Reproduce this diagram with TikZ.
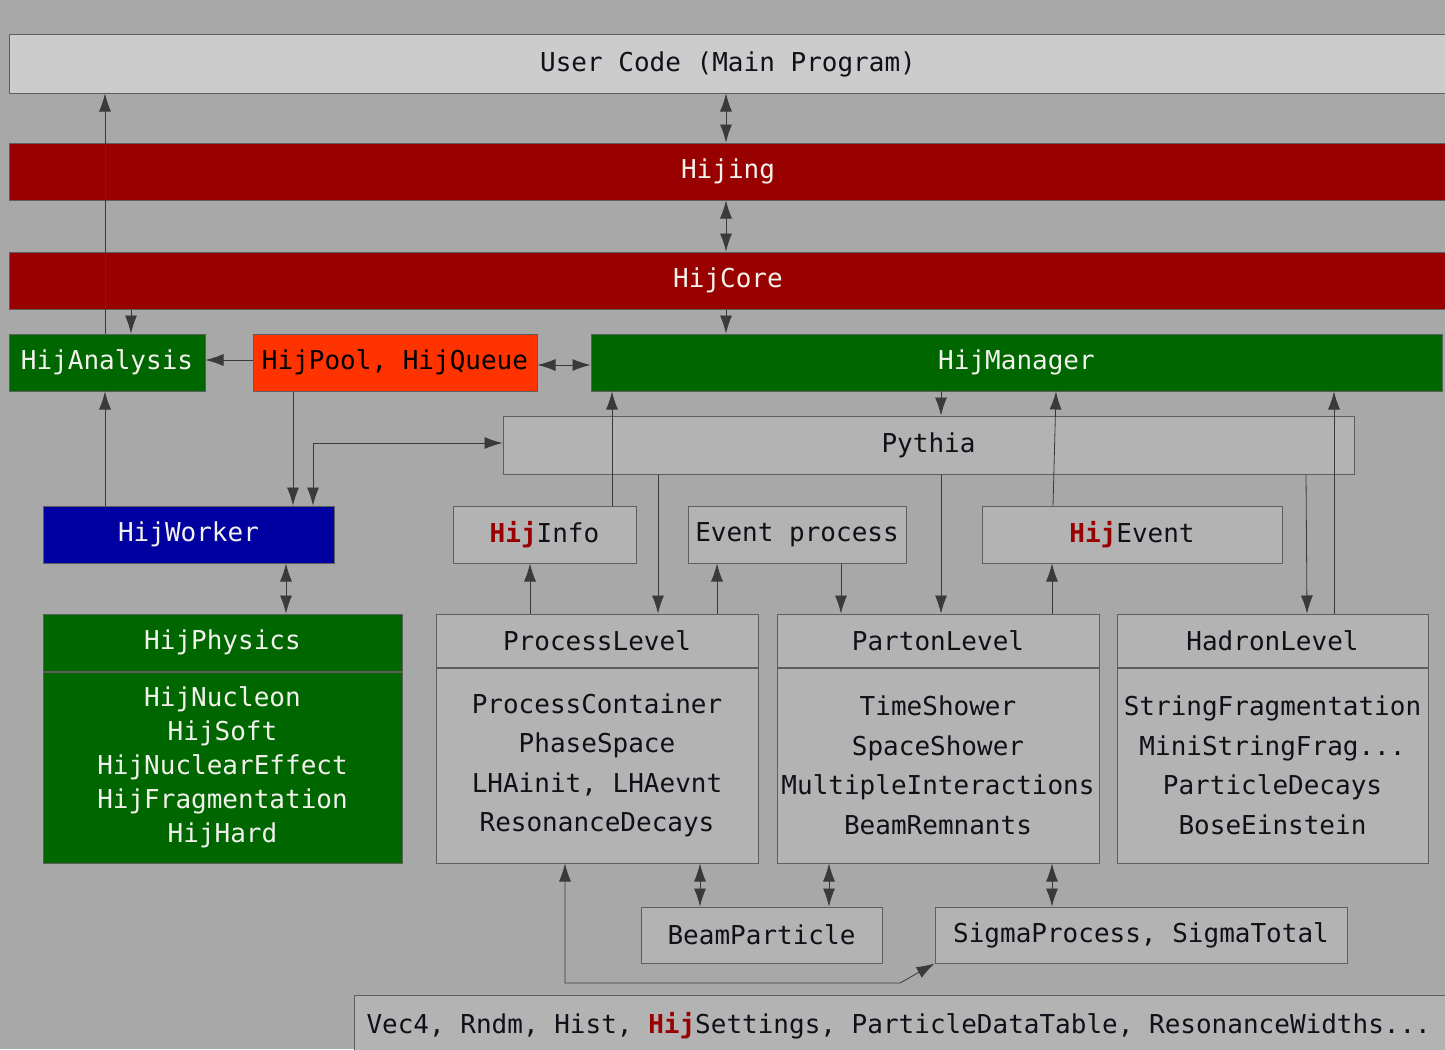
\documentclass[tikz,border=0pt]{standalone}
\usepackage{fontspec}
\setmainfont{DejaVu Sans Mono}
\usetikzlibrary{arrows.meta}
\usetikzlibrary{positioning}

\definecolor{bggray}{HTML}{A8A8A8}
\definecolor{boxgray}{HTML}{B3B3B3}
\definecolor{usergray}{HTML}{CCCCCC}
\definecolor{framegray}{HTML}{5E5E5E}
\definecolor{arrowgray}{HTML}{3A3A3A}
\definecolor{hijred}{HTML}{990000}
\definecolor{hijgreen}{HTML}{006600}
\definecolor{hijblue}{HTML}{0000A0}
\definecolor{hijorange}{HTML}{FF3300}
\definecolor{lighttext}{HTML}{F2F2EC}
\definecolor{darktext}{HTML}{101018}

\newcommand{\hij}{\textbf{\textcolor{hijred}{Hij}}}

\tikzset{
    every node/.style={font=\fontsize{26}{34}\selectfont, inner sep=0pt},
    graybox/.style={draw=framegray, line width=1pt, fill=boxgray, text=darktext},
    userbox/.style={draw=framegray, line width=1pt, fill=usergray, text=darktext},
    redbar/.style={draw=framegray, line width=1pt, fill=hijred, text=lighttext},
    greenbox/.style={draw=framegray, line width=1pt, fill=hijgreen, text=lighttext},
    bluebox/.style={draw=framegray, line width=1pt, fill=hijblue, text=lighttext},
    orangebox/.style={draw=framegray, line width=1pt, fill=hijorange, text=black},
    lvlhead/.style={graybox, minimum height=53pt},
    lvlbody/.style={graybox, minimum height=195pt, align=center,
        font=\fontsize{26}{39.5}\selectfont},
    arr/.style={draw=arrowgray, line width=0.8pt,
        -{Latex[length=18pt,width=12pt]}},
    darr/.style={draw=arrowgray, line width=0.8pt,
        {Latex[length=18pt,width=12pt]}-{Latex[length=18pt,width=12pt]}},
}

\begin{document}
\begin{tikzpicture}[x=1pt,y=-1pt]
    \useasboundingbox (0,0) rectangle (1445,1049);
    \clip (0,0) rectangle (1445,1049);
    \fill[bggray] (0,0) rectangle (1445,1049);

    % top layers
    \node[userbox, minimum width=1438pt, minimum height=58pt] (usercode) at (728,64) {User Code (Main Program)};
    \node[redbar, minimum width=1438pt, minimum height=57pt] (hijing) at (728,171.5) {Hijing};
    \node[redbar, minimum width=1438pt, minimum height=57pt] (hijcore) at (728,280.5) {HijCore};

    % managers
    \node[greenbox, minimum width=196pt, minimum height=57pt] (hijanalysis) at (107,362.5) {HijAnalysis};
    \node[orangebox, minimum width=284pt, minimum height=57pt] (hijpool) at (395,362.5) {HijPool, HijQueue};
    \node[greenbox, minimum width=851pt, minimum height=57pt] (hijmanager) at (1016.5,362.5) {HijManager};
    \node[graybox, minimum width=851pt, minimum height=58pt] (pythia) at (928.5,445) {Pythia};

    % middle row
    \node[bluebox, minimum width=291pt, minimum height=57pt] (hijworker) at (188.5,534.5) {HijWorker};
    \node[graybox, minimum width=183pt, minimum height=57pt] (hijinfo) at (544.5,534.5) {\hij Info};
    \node[graybox, minimum width=218pt, minimum height=57pt] (eventproc) at (797,534.5) {Event process};
    \node[graybox, minimum width=300pt, minimum height=57pt] (hijevent) at (1132,534.5) {\hij Event};

    % physics and levels
    \node[greenbox, minimum width=359pt, minimum height=57pt] (hijphysics) at (222.5,642.5) {HijPhysics};
    \node[greenbox, minimum width=359pt, minimum height=191pt, align=center, below=0pt of hijphysics] (physicsbody)
        {HijNucleon\\HijSoft\\HijNuclearEffect\\HijFragmentation\\HijHard};
    \node[lvlhead, minimum width=322pt] (processlevel) at (597,640.5) {ProcessLevel};
    \node[lvlbody, minimum width=322pt, below=0pt of processlevel] (processbody)
        {ProcessContainer\\PhaseSpace\\LHAinit, LHAevnt\\ResonanceDecays};
    \node[lvlhead, minimum width=322pt] (partonlevel) at (938,640.5) {PartonLevel};
    \node[lvlbody, minimum width=322pt, below=0pt of partonlevel] (partonbody)
        {TimeShower\\SpaceShower\\MultipleInteractions\\BeamRemnants};
    \node[lvlhead, minimum width=311pt] (hadronlevel) at (1272.5,640.5) {HadronLevel};
    \node[lvlbody, minimum width=311pt, below=0pt of hadronlevel] (hadronbody)
        {StringFragmentation\\MiniStringFrag...\\ParticleDecays\\BoseEinstein};

    % bottom
    \node[graybox, minimum width=241pt, minimum height=56pt] (beamparticle) at (761.5,935) {BeamParticle};
    \node[graybox, minimum width=412pt, minimum height=56pt] (sigma) at (1141,935) {SigmaProcess, SigmaTotal};
    \node[graybox, minimum height=60pt, anchor=north west, inner xsep=12pt] (utils) at (354,995)
        {\makebox[1086pt][l]{Vec4, Rndm, Hist, \hij Settings, ParticleDataTable, ResonanceWidths...}};

    % connectors
    \draw[darr] ([xshift=-2pt]usercode.south) -- ([xshift=-2pt]hijing.north);
    \draw[darr] ([xshift=-2pt]hijing.south) -- ([xshift=-2pt]hijcore.north);
    \draw[arr] ([xshift=-2pt]hijcore.south) -- ([xshift=-2pt]hijcore.south |- hijmanager.north);
    \draw[arr] ([xshift=-2pt]hijanalysis.north) -- ([xshift=-2pt]hijanalysis.north |- usercode.south);
    \draw[arr] ([xshift=24pt]hijanalysis.north |- hijcore.south) -- ([xshift=24pt]hijanalysis.north);
    \draw[arr] ([yshift=2.5pt]hijpool.west) -- ([yshift=2.5pt]hijpool.west -| hijanalysis.east);
    \draw[darr] ([yshift=-2.5pt]hijpool.east) -- ([yshift=-2.5pt]hijpool.east -| hijmanager.west);
    \draw[arr] ([xshift=-2pt]hijanalysis.south |- hijworker.north) -- ([xshift=-2pt]hijanalysis.south);
    \draw[arr] ([xshift=-102pt]hijpool.south) -- ([xshift=-102pt]hijpool.south |- hijworker.north);
    \draw[darr] ([xshift=124.5pt]hijworker.north) |- ([yshift=2pt]pythia.west);
    \draw[darr] ([xshift=97.5pt]hijworker.south) -- ([xshift=97.5pt]hijworker.south |- hijphysics.north);
    \draw[arr] ([xshift=67.5pt]hijinfo.north) -- ([xshift=67.5pt]hijinfo.north |- hijmanager.south);
    \draw[arr] ([xshift=3pt]partonlevel.north |- hijmanager.south) -- ([xshift=3pt]partonlevel.north |- pythia.north);
    \draw[arr] ([xshift=-79pt]hijevent.north) -- ([xshift=-76pt]hijevent.north |- hijmanager.south);
    \draw[arr] ([xshift=61.5pt]hadronlevel.north) -- ([xshift=61.5pt]hadronlevel.north |- hijmanager.south);
    \draw[arr] ([xshift=61pt]processlevel.north |- pythia.south) -- ([xshift=61pt]processlevel.north);
    \draw[arr] ([xshift=3pt]partonlevel.north |- pythia.south) -- ([xshift=3pt]partonlevel.north);
    \draw[arr] ([xshift=33.5pt]hadronlevel.north |- pythia.south) -- ([xshift=34.5pt]hadronlevel.north);
    \draw[arr] ([xshift=-67pt]processlevel.north) -- ([xshift=-67pt]processlevel.north |- hijinfo.south);
    \draw[arr] ([xshift=120pt]processlevel.north) -- ([xshift=120pt]processlevel.north |- eventproc.south);
    \draw[arr] ([xshift=44pt]eventproc.south) -- ([xshift=44pt]eventproc.south |- partonlevel.north);
    \draw[arr] ([xshift=114pt]partonlevel.north) -- ([xshift=114pt]partonlevel.north |- hijevent.south);
    \draw[darr] ([xshift=103pt]processbody.south) -- ([xshift=103pt]processbody.south |- beamparticle.north);
    \draw[darr] ([xshift=-109pt]partonbody.south) -- ([xshift=-109pt]partonbody.south |- beamparticle.north);
    \draw[darr] ([xshift=114pt]partonbody.south) -- ([xshift=114pt]partonbody.south |- sigma.north);
    \coordinate (bend) at (900,983);
    \draw[darr] ([xshift=-32pt]processbody.south) |- (bend) -- (sigma.south west);
\end{tikzpicture}
\end{document}
